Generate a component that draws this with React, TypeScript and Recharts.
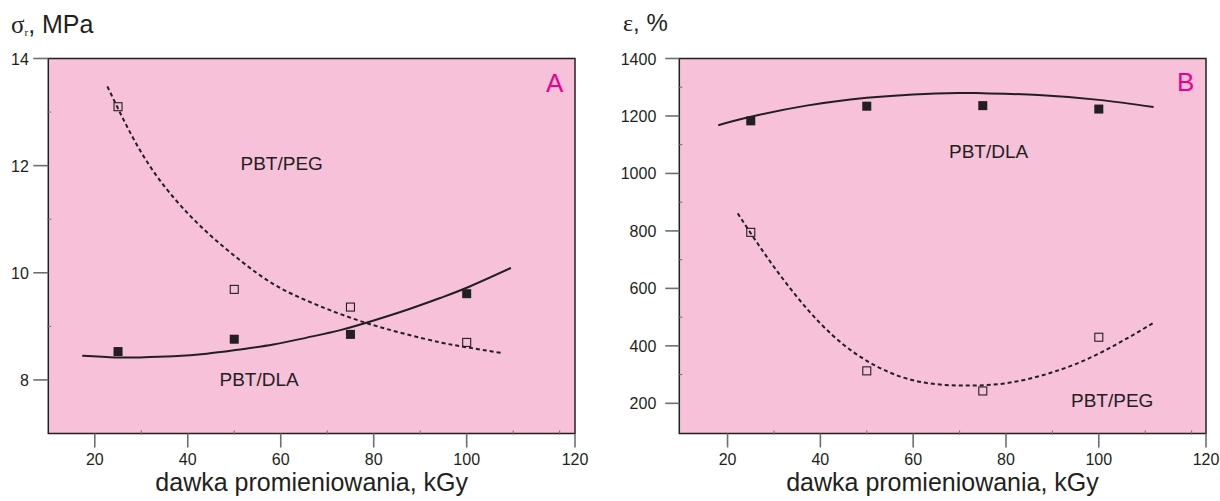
import React from 'react';
import {
  ComposedChart,
  Line,
  Scatter,
  XAxis,
  YAxis,
  CartesianGrid,
  ReferenceArea,
} from 'recharts';

// ---------- data ----------
// Panel A: tensile strength sigma_r [MPa] vs dose [kGy]
const doseA = [25, 50, 75, 100];
const pegStrengthA = [13.1, 9.69, 9.36, 8.7];
const dlaStrengthA = [8.53, 8.76, 8.85, 9.61];

const pegFitDoseA = [22.7, 29.7, 36.9, 44.1, 51.3, 58.4, 65.6, 72.8, 80.0, 87.2, 94.3, 100, 107.7];
const pegFitValA = [13.48, 12.29, 11.41, 10.76, 10.23, 9.79, 9.48, 9.23, 9.02, 8.85, 8.7, 8.61, 8.5];

const dlaFitDoseA = [17.3, 24.4, 29.7, 36.9, 44.1, 51.3, 58.4, 65.6, 72.8, 80.0, 87.2, 94.3, 100, 109.5];
const dlaFitValA = [8.45, 8.42, 8.42, 8.44, 8.49, 8.57, 8.66, 8.79, 8.93, 9.11, 9.31, 9.53, 9.72, 10.09];

// Panel B: elongation epsilon [%] vs dose [kGy]
const doseB = [25, 50, 75, 100];
const dlaElongB = [1183, 1234, 1236, 1224];
const pegElongB = [795, 313, 243, 430];

const dlaFitDoseB = [18.0, 25, 37, 50, 60, 69.8, 75, 87, 100, 111.8];
const dlaFitValB = [1168, 1197, 1236, 1263, 1275, 1280, 1279, 1273, 1256, 1231];

const pegFitDoseB = [22.2, 30, 40, 50, 60, 70, 80, 90, 100, 111.6];
const pegFitValB = [861, 675, 478, 348, 280, 262, 270, 308, 373, 478];

// axis ticks
const xMajorTicks = [20, 40, 60, 80, 100];
const xMinorTicks = [30, 50, 70, 90, 110, 120];
const xEdgeLabel = '120';
const yMajorA = [8, 10, 12, 14];
const yMinorA = [9, 11, 13];
const yMajorB = [200, 400, 600, 800, 1000, 1200, 1400];
const yMinorB = [300, 500, 700, 900, 1100, 1300];

// domains
const xDomainA: [number, number] = [10, 123.3];
const yDomainA: [number, number] = [7, 14];
const xDomainB: [number, number] = [9.6, 123.1];
const yDomainB: [number, number] = [95, 1400];

// ---------- styles ----------
const FONT = '"Liberation Sans", Arial, Helvetica, sans-serif';
const SERIF = '"Liberation Serif", "Times New Roman", serif';
const INK = '#231f20';
const TICK = '#6d6e71';
const PINK = '#f6c1d9';
const MAGENTA = '#ec008c';

const zip = (xs: number[], ys: number[]) => xs.map((x, i) => ({ x, y: ys[i] }));

function makeXTick(domainMax: number) {
  return (props: any) => {
    const { x, y, payload } = props;
    const v = payload.value;
    const isEdge = Math.abs(v - domainMax) < 1e-6;
    const isMajor = xMajorTicks.includes(v) || isEdge;
    return (
      <g>
        {isMajor ? (
          <line x1={x} x2={x} y1={y} y2={y + 14} stroke={TICK} strokeWidth={1.6} />
        ) : (
          <line x1={x} x2={x} y1={y - 3} y2={y + 1} stroke={TICK} strokeWidth={1} />
        )}
        {isMajor && (
          <text x={x} y={y + 31} textAnchor="middle" fontSize={16} fill={INK} fontFamily={FONT}>
            {isEdge ? xEdgeLabel : String(v)}
          </text>
        )}
      </g>
    );
  };
}

function makeYTick(majors: number[], tickLen: number, labelGap: number) {
  return (props: any) => {
    const { x, y, payload } = props;
    const v = payload.value;
    const isMajor = majors.includes(v);
    return (
      <g>
        {isMajor ? (
          <line x1={x - tickLen} x2={x} y1={y} y2={y} stroke={TICK} strokeWidth={1.6} />
        ) : (
          <line x1={x - 1} x2={x + 3} y1={y} y2={y} stroke={TICK} strokeWidth={1} />
        )}
        {isMajor && (
          <text x={x - labelGap} y={y + 6} textAnchor="end" fontSize={16} fill={INK} fontFamily={FONT}>
            {String(v)}
          </text>
        )}
      </g>
    );
  };
}

const filledSquare = (props: any) => {
  const { cx, cy } = props;
  if (cx == null || cy == null) return <g />;
  return <rect x={cx - 4.5} y={cy - 4.5} width={9} height={9} fill={INK} />;
};
const openSquare = (props: any) => {
  const { cx, cy } = props;
  if (cx == null || cy == null) return <g />;
  return <rect x={cx - 4} y={cy - 4} width={8} height={8} fill="none" stroke={INK} strokeWidth={1.1} />;
};

function Panel(props: {
  width: number;
  height: number;
  margin: { top: number; right: number; bottom: number; left: number };
  yAxisWidth: number;
  xDomain: [number, number];
  yDomain: [number, number];
  yMajors: number[];
  yMinors: number[];
  yTickLen: number;
  yLabelGap: number;
  solidFit: { x: number; y: number }[];
  dashedFit: { x: number; y: number }[];
  filled: { x: number; y: number }[];
  open: { x: number; y: number }[];
}) {
  const p = props;
  const xTicks = [...xMajorTicks, ...xMinorTicks, p.xDomain[1]].sort((a, b) => a - b);
  const yTicks = [...p.yMajors, ...p.yMinors].sort((a, b) => a - b);
  return (
    <ComposedChart width={p.width} height={p.height} margin={p.margin}>
      <CartesianGrid fill={PINK} horizontal={false} vertical={false} stroke="none" />
      <XAxis
        type="number"
        dataKey="x"
        domain={p.xDomain}
        allowDataOverflow
        ticks={xTicks}
        interval={0}
        axisLine={false}
        tickLine={false}
        tickSize={0}
        tickMargin={0}
        height={40}
        tick={makeXTick(p.xDomain[1])}
      />
      <YAxis
        type="number"
        dataKey="y"
        domain={p.yDomain}
        allowDataOverflow
        ticks={yTicks}
        interval={0}
        axisLine={false}
        tickLine={false}
        tickSize={0}
        tickMargin={0}
        width={p.yAxisWidth}
        tick={makeYTick(p.yMajors, p.yTickLen, p.yLabelGap)}
      />
      <Line
        data={p.dashedFit}
        dataKey="y"
        type="natural"
        stroke={INK}
        strokeWidth={2}
        strokeDasharray="4 3"
        dot={false}
        activeDot={false}
        isAnimationActive={false}
      />
      <Line
        data={p.solidFit}
        dataKey="y"
        type="natural"
        stroke={INK}
        strokeWidth={2}
        dot={false}
        activeDot={false}
        isAnimationActive={false}
      />
      <Scatter data={p.open} dataKey="y" shape={openSquare} isAnimationActive={false} />
      <Scatter data={p.filled} dataKey="y" shape={filledSquare} isAnimationActive={false} />
      <ReferenceArea
        x1={p.xDomain[0]}
        x2={p.xDomain[1]}
        y1={p.yDomain[0]}
        y2={p.yDomain[1]}
        fill="none"
        fillOpacity={0}
        stroke={INK}
        strokeWidth={1.5}
      />
    </ComposedChart>
  );
}

export default function App() {
  return (
    <div
      style={{
        position: 'absolute',
        left: 0,
        top: 0,
        width: 1220,
        height: 501,
        background: '#ffffff',
        overflow: 'hidden',
      }}
    >
      <div style={{ position: 'absolute', left: 0, top: 0 }}>
        <Panel
          width={600}
          height={501}
          margin={{ top: 58.5, right: 25, bottom: 27.5, left: 0 }}
          yAxisWidth={48.3}
          xDomain={xDomainA}
          yDomain={yDomainA}
          yMajors={yMajorA}
          yMinors={yMinorA}
          yTickLen={15}
          yLabelGap={19.5}
          solidFit={zip(dlaFitDoseA, dlaFitValA)}
          dashedFit={zip(pegFitDoseA, pegFitValA)}
          filled={zip(doseA, dlaStrengthA)}
          open={zip(doseA, pegStrengthA)}
        />
      </div>
      <div style={{ position: 'absolute', left: 610, top: 0 }}>
        <Panel
          width={610}
          height={501}
          margin={{ top: 58.5, right: 14, bottom: 27.5, left: 0 }}
          yAxisWidth={69.3}
          xDomain={xDomainB}
          yDomain={yDomainB}
          yMajors={yMajorB}
          yMinors={yMinorB}
          yTickLen={14}
          yLabelGap={23}
          solidFit={zip(dlaFitDoseB, dlaFitValB)}
          dashedFit={zip(pegFitDoseB, pegFitValB)}
          filled={zip(doseB, dlaElongB)}
          open={zip(doseB, pegElongB)}
        />
      </div>
      <svg
        width={1220}
        height={501}
        style={{ position: 'absolute', left: 0, top: 0, pointerEvents: 'none' }}
      >
        {/* Y axis titles */}
        <text x={11} y={33} fontSize={25} fill={INK} fontFamily={FONT}>
          <tspan fontFamily={SERIF}>σ</tspan>
          <tspan fontFamily={SERIF} fontSize={11} dy={3}>r</tspan>
          <tspan dy={-3}>, MPa</tspan>
        </text>
        <text x={623} y={31} fontSize={24} fill={INK} fontFamily={FONT}>
          <tspan fontFamily={SERIF}>ε</tspan>
          <tspan>, %</tspan>
        </text>
        {/* X axis titles */}
        <text x={311.7} y={491} textAnchor="middle" fontSize={25} fill={INK} fontFamily={FONT}>
          dawka promieniowania, kGy
        </text>
        <text x={942.5} y={491} textAnchor="middle" fontSize={25} fill={INK} fontFamily={FONT}>
          dawka promieniowania, kGy
        </text>
        {/* panel letters */}
        <text x={546} y={92} fontSize={26} fill={MAGENTA} fontFamily={FONT}>A</text>
        <text x={1177} y={91} fontSize={26} fill={MAGENTA} fontFamily={FONT}>B</text>
        {/* series annotations */}
        <text x={240.5} y={170} fontSize={19} fill={INK} fontFamily={FONT}>PBT/PEG</text>
        <text x={219.5} y={385.5} fontSize={19} fill={INK} fontFamily={FONT}>PBT/DLA</text>
        <text x={949} y={158} fontSize={19} fill={INK} fontFamily={FONT}>PBT/DLA</text>
        <text x={1071} y={407} fontSize={19} fill={INK} fontFamily={FONT}>PBT/PEG</text>
      </svg>
    </div>
  );
}
